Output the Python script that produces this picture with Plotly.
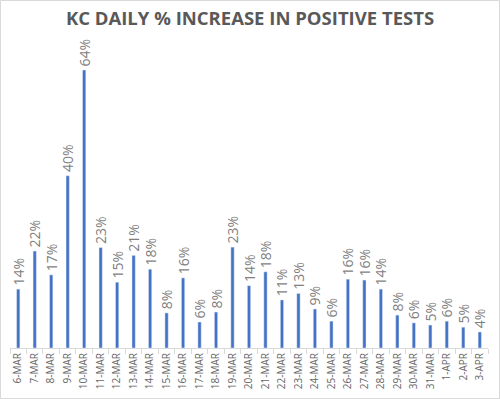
import plotly.graph_objects as go

dates = ["6-MAR", "7-MAR", "8-MAR", "9-MAR", "10-MAR", "11-MAR", "12-MAR", "13-MAR",
         "14-MAR", "15-MAR", "16-MAR", "17-MAR", "18-MAR", "19-MAR", "20-MAR", "21-MAR",
         "22-MAR", "23-MAR", "24-MAR", "25-MAR", "26-MAR", "27-MAR", "28-MAR", "29-MAR",
         "30-MAR", "31-MAR", "1-APR", "2-APR", "3-APR"]
pct_increase = [13.6, 22.4, 16.9, 39.8, 64.2, 23.2, 15.2, 21.4, 18.2, 8.1, 16.2, 6.0, 8.3,
                23.3, 14.4, 17.6, 11.1, 12.6, 9.0, 6.2, 15.9, 15.7, 13.6, 7.6, 5.8, 5.3,
                6.2, 4.8, 3.7]

W, H = 500, 399
ml, mr, mt, mb = 10, 12, 45, 51

fig = go.Figure(go.Bar(
    x=dates,
    y=[v / 100 for v in pct_increase],
    marker_color="#4472C4",
    text=[f"\u00a0{round(v)}%" for v in pct_increase],
    textposition="outside",
    textangle=-90,
    constraintext="none",
    textfont=dict(family="Open Sans, sans-serif", size=14, color="#7F7F7F"),
    cliponaxis=False,
))

fig.update_layout(
    width=W, height=H,
    margin=dict(l=ml, r=mr, t=mt, b=mb, autoexpand=False),
    paper_bgcolor="white",
    plot_bgcolor="white",
    bargap=0.8,
    showlegend=False,
    title=dict(text="<b>KC DAILY % INCREASE IN POSITIVE TESTS</b>",
               x=0.5, xanchor="center", y=1 - 19 / H, yanchor="middle",
               font=dict(family="Open Sans, sans-serif", size=18.5, color="#595959")),
    xaxis=dict(
        type="category",
        automargin=False,
        tickangle=-90,
        tickfont=dict(family="Open Sans, sans-serif", size=10, color="#666666"),
        showline=True, linecolor="#D9D9D9", linewidth=1,
        ticks="outside", tickson="boundaries", ticklen=5, tickcolor="#D9D9D9",
        showgrid=False,
    ),
    yaxis=dict(range=[0, 0.70], visible=False, showgrid=False, zeroline=False,
               automargin=False),
)

pw = W - ml - mr
ph = H - mt - mb
fig.add_shape(type="rect", xref="paper", yref="paper",
              x0=-(ml - 0.5) / pw, x1=1 + (mr - 0.5) / pw,
              y0=-(mb - 0.5) / ph, y1=1 + (mt - 0.5) / ph,
              line=dict(color="#D9D9D9", width=1), layer="below")

fig.write_html("out.html", config={"displayModeBar": False},
               post_script="document.body.style.margin='0';")
